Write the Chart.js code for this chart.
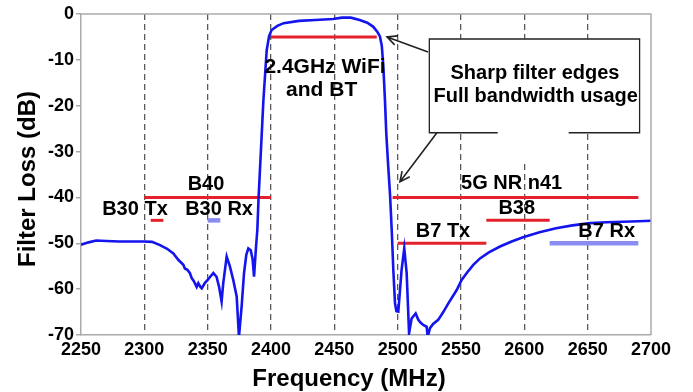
<!DOCTYPE html>
<html>
<head>
<meta charset="utf-8">
<script src="https://cdn.jsdelivr.net/npm/chart.js@4.4.0/dist/chart.umd.min.js"></script>
<style>
  html, body { margin: 0; padding: 0; background: #fff; }
  #wrap { width: 693px; height: 392px; }
</style>
</head>
<body>
<div id="wrap"><canvas id="chart"></canvas></div>
<script>
// filter response
const freqMHz = [
  2250, 2256, 2262, 2270, 2280, 2292, 2300, 2306, 2312.4, 2318,
  2322.9, 2326.8, 2330.8, 2332, 2334, 2336, 2337.4, 2339, 2341.3, 2342.6,
  2344, 2345.3, 2347.9, 2350, 2352, 2354.5, 2357, 2359, 2361, 2362.3,
  2365, 2367.6, 2370.2, 2372.9, 2374.7, 2376.8, 2378.7, 2380.5, 2382.1, 2384,
  2385.5, 2386.6, 2388.2, 2389.2, 2390.2, 2392, 2394, 2396.6, 2398.5, 2400.5,
  2405, 2410, 2422, 2435, 2449, 2456, 2463, 2470, 2476, 2480.8,
  2484, 2486, 2487.5, 2488.7, 2490, 2491, 2492.5, 2494, 2495.3, 2496.6,
  2497.9, 2499, 2500.5, 2503.1, 2505.2, 2507.1, 2509, 2511, 2514.2, 2516.3,
  2518, 2520.2, 2522.9, 2523.7, 2525.5, 2528, 2532, 2536, 2540, 2546.6,
  2550.5, 2555, 2559.7, 2565, 2572, 2580.8, 2590, 2599, 2612, 2625,
  2638, 2652, 2665, 2678, 2690, 2700
];
const lossDb = [
  -50.3, -49.8, -49.4, -49.5, -49.6, -49.6, -49.6, -49.7, -50.4, -51.2,
  -52.2, -53.6, -54.7, -55.5, -55.8, -56.5, -57.6, -58.2, -59.5, -58.7,
  -59.4, -59.8, -58.6, -58.0, -57.3, -56.5, -57.3, -59.5, -62.7, -58.7,
  -52.9, -55.1, -58.0, -61.6, -70.4, -63.8, -56.5, -52.5, -51.1, -51.5,
  -53.5, -57.3, -50.7, -47.1, -40.0, -30.0, -18.8, -7.9, -4.8, -3.5,
  -2.6, -2.0, -1.5, -1.3, -1.1, -0.8, -0.8, -1.3, -1.9, -2.8,
  -3.9, -4.9, -7.0, -11.5, -19.0, -26.0, -33.0, -39.5, -47.1, -56.0,
  -63.1, -64.8, -64.9, -55.8, -51.1, -56.5, -69.6, -66.4, -65.3, -66.7,
  -67.3, -67.8, -68.2, -70.4, -68.5, -67.6, -66.7, -65.0, -63.1, -60.2,
  -58.0, -56.3, -54.7, -53.3, -52.0, -50.7, -49.6, -48.7, -47.6, -46.7,
  -46.1, -45.6, -45.4, -45.3, -45.2, -45.1
];

// frequency bands
const bandNames = ['B40', 'B30 Tx', 'B30 Rx', '2.4GHz WiFi', '5G NR n41', 'B38', 'B7 Tx', 'B7 Rx'];
const bandStart = [2300, 2305, 2350, 2400, 2496, 2570, 2500, 2620];
const bandEnd   = [2400, 2315, 2360, 2483.5, 2690, 2620, 2570, 2690];
const bandLevel = [-40, -45, -45, -5, -40, -45, -50, -50];
const bandIsRx  = [false, false, true, false, false, false, false, true];

const xMin = 2250, xMax = 2700, xStep = 50;
const yMin = -70, yMax = 0, yStep = 10;

const FONT = "'Liberation Sans', Arial, sans-serif";
const RED = '#e3202b';
const RX_BLUE = '#8a8cf2';

const curve = freqMHz.map((f, i) => ({ x: f, y: lossDb[i] }));

const datasets = [{
  data: curve,
  borderColor: '#1414ee',
  borderWidth: 2.6,
  pointRadius: 0,
  tension: 0,
}];
bandNames.forEach((name, i) => {
  datasets.push({
    label: name,
    data: [{ x: bandStart[i], y: bandLevel[i] }, { x: bandEnd[i], y: bandLevel[i] }],
    borderColor: bandIsRx[i] ? RX_BLUE : RED,
    borderWidth: bandIsRx[i] ? 4.5 : 3,
    pointRadius: 0,
  });
});

// text labels, in data coords
const notes = [
  { t: 'B40', x: 2348.7, y: -37.1 },
  { t: 'B30 Tx', x: 2292.6, y: -42.7 },
  { t: 'B30 Rx', x: 2359, y: -42.7 },
  { t: '2.4GHz WiFi', x: 2442.6, y: -11.6 },
  { t: 'and BT', x: 2440, y: -16.6 },
  { t: '5G NR n41', x: 2590, y: -36.9 },
  { t: 'B38', x: 2594, y: -42.5 },
  { t: 'B7 Tx', x: 2535.8, y: -47.5 },
  { t: 'B7 Rx', x: 2665, y: -47.5 },
];

function arrow(ctx, x1, y1, x2, y2) {
  const a = Math.atan2(y2 - y1, x2 - x1);
  const h = 11;
  ctx.beginPath();
  ctx.moveTo(x1, y1);
  ctx.lineTo(x2, y2);
  ctx.moveTo(x2 - h * Math.cos(a - 0.45), y2 - h * Math.sin(a - 0.45));
  ctx.lineTo(x2, y2);
  ctx.lineTo(x2 - h * Math.cos(a + 0.45), y2 - h * Math.sin(a + 0.45));
  ctx.stroke();
}

const decor = {
  id: 'decor',
  afterDatasetsDraw(chart) {
    const { ctx, chartArea: ca, scales: { x, y } } = chart;
    const px = (v) => x.getPixelForValue(v);
    const py = (v) => y.getPixelForValue(v);
    ctx.save();

    // top / right frame
    ctx.strokeStyle = '#aaaaaa';
    ctx.lineWidth = 1.5;
    ctx.beginPath();
    ctx.moveTo(ca.left, ca.top);
    ctx.lineTo(ca.right, ca.top);
    ctx.lineTo(ca.right, ca.bottom);
    ctx.stroke();

    // callout box
    const bl = px(2525), br = px(2691), bt = py(-5.45), bb = py(-25.9);
    const gl = px(2579), gr = px(2635);
    ctx.fillStyle = '#fff';
    ctx.fillRect(bl, bt, br - bl, bb - bt);
    ctx.fillRect(gl, bb - 1, gr - gl, py(-32.5) - bb + 1);
    ctx.strokeStyle = '#222';
    ctx.lineWidth = 1.3;
    ctx.beginPath();
    ctx.moveTo(gl, bb);
    ctx.lineTo(bl, bb);
    ctx.lineTo(bl, bt);
    ctx.lineTo(br, bt);
    ctx.lineTo(br, bb);
    ctx.lineTo(gr, bb);
    ctx.stroke();

    ctx.lineWidth = 1.6;
    arrow(ctx, px(2524), py(-8.3), px(2491.6), py(-5.0));
    arrow(ctx, px(2531), py(-25.9), px(2501.8), py(-36.6));

    ctx.fillStyle = '#000';
    ctx.textAlign = 'center';
    ctx.textBaseline = 'middle';
    ctx.font = `bold 20px ${FONT}`;
    ctx.fillText('Sharp filter edges', px(2608.4), py(-12.9));
    ctx.fillText('Full bandwidth usage', px(2609), py(-17.9));
    notes.forEach((n) => {
      ctx.font = `bold ${n.t === '2.4GHz WiFi' || n.t === 'and BT' ? 21 : 20}px ${FONT}`;
      ctx.fillText(n.t, px(n.x), py(n.y));
    });

    // axis titles
    ctx.font = `bold 24px ${FONT}`;
    ctx.textBaseline = 'alphabetic';
    ctx.fillText('Frequency (MHz)', 349, 386);
    ctx.translate(35, 179);
    ctx.rotate(-Math.PI / 2);
    ctx.fillText('Filter Loss (dB)', 0, 0);
    ctx.restore();
  },
};

new Chart(document.getElementById('chart'), {
  type: 'line',
  data: { datasets },
  plugins: [decor],
  options: {
    responsive: true,
    maintainAspectRatio: false,
    animation: false,
    layout: { padding: { top: 14, right: 42, left: 0, bottom: 0 } },
    plugins: { legend: { display: false }, tooltip: { enabled: false } },
    scales: {
      x: {
        type: 'linear',
        min: xMin,
        max: xMax,
        afterFit: (s) => { s.height = 57; },
        ticks: {
          stepSize: xStep,
          autoSkip: false,
          maxRotation: 0,
          padding: 4,
          color: '#000',
          font: { family: FONT, size: 18, weight: 'bold' },
          callback: (v) => String(v),
        },
        grid: {
          drawTicks: false,
          lineWidth: 1.3,
          color: (c) => (c.tick && (c.tick.value === xMin || c.tick.value === xMax)) ? 'rgba(0,0,0,0)' : '#5a5a5a',
        },
        border: { color: '#aaaaaa', width: 1.5, dash: [6, 4] },
      },
      y: {
        min: yMin,
        max: yMax,
        afterFit: (s) => { s.width = 81; },
        ticks: {
          stepSize: yStep,
          padding: 2,
          color: '#000',
          font: { family: FONT, size: 18, weight: 'bold' },
        },
        grid: { drawOnChartArea: false, drawTicks: true, tickLength: 5, color: '#aaaaaa', lineWidth: 1.5 },
        border: { color: '#aaaaaa', width: 1.5 },
      },
    },
  },
});
</script>
</body>
</html>
